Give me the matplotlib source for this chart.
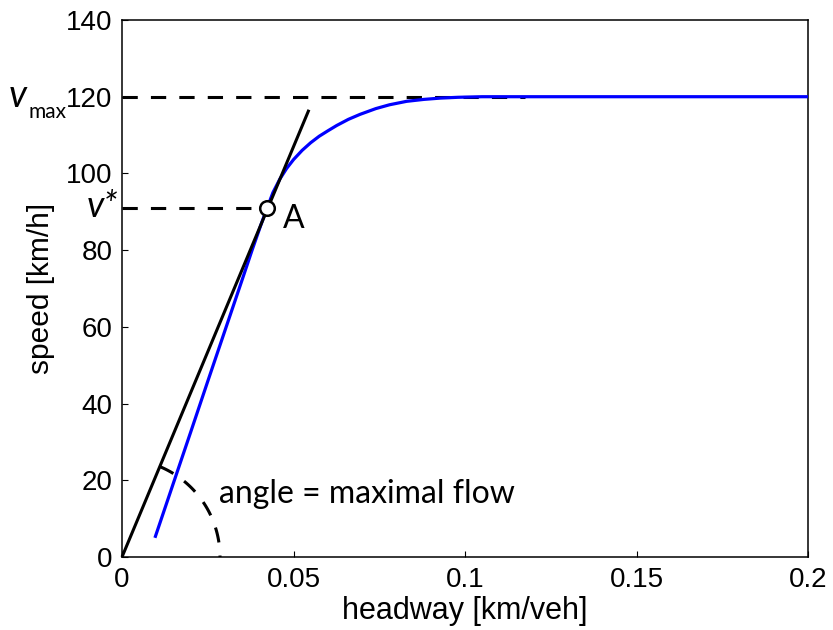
import matplotlib
matplotlib.use("Agg")
import matplotlib.pyplot as plt
import numpy as np

# Data
headway = [0.0096, 0.015, 0.020, 0.025, 0.030, 0.035, 0.038, 0.0405, 0.0423, 0.044,
           0.046, 0.048, 0.050, 0.0525, 0.055, 0.0575, 0.060, 0.0626, 0.066, 0.0694,
           0.074, 0.078, 0.083, 0.088, 0.093, 0.098, 0.105, 0.112, 0.15, 0.2]
speed = [5.0, 19.3, 32.5, 45.8, 59.0, 72.2, 80.2, 86.6, 91.0, 95.0,
         98.5, 101.3, 103.6, 106.0, 108.0, 109.7, 111.1, 112.5, 114.1, 115.4,
         116.9, 117.9, 118.8, 119.3, 119.65, 119.85, 120.0, 120.0, 120.0, 120.0]

tangent_x = [0.0, 0.0545]
tangent_y = [0.0, 116.6]

vmax = 120
vstar = 91
point_A = (0.0423, 91)
vmax_dash_end = 0.1175

xticks = [0, 0.05, 0.1, 0.15, 0.2]
xtick_labels = ["0", "0.05", "0.1", "0.15", "0.2"]
yticks = [0, 20, 40, 60, 80, 100, 120, 140]

W, H = 833, 630
fig = plt.figure(figsize=(W / 100, H / 100), dpi=100)
L, R, T, B = 122, 808, 20, 557
ax = fig.add_axes([L / W, 1 - B / H, (R - L) / W, (B - T) / H])

tick_font = "Liberation Sans"
ann_font = "Lato"

dash = (5, 4.3)
lw = 2.2

ax.plot([0, vmax_dash_end], [vmax, vmax], color="black", lw=lw, dashes=dash, zorder=2)
ax.plot([0, point_A[0]], [vstar, vstar], color="black", lw=lw, dashes=dash, zorder=2)
ax.plot(headway, speed, color="#0000ff", lw=2.3, zorder=3, solid_capstyle="butt",
        solid_joinstyle="round")
ax.plot(tangent_x, tangent_y, color="black", lw=2.2, zorder=4, clip_on=False,
        solid_capstyle="butt")

# angle arc (circular in pixel space), centred on the origin, drawn from the line down
r_px = 98
px_x = (R - L) / 0.2
px_y = (B - T) / 140
theta = np.arctan2(tangent_y[1] * px_y, tangent_x[1] * px_x)
t = np.linspace(theta, 0, 80)
ax.plot(r_px * np.cos(t) / px_x, r_px * np.sin(t) / px_y, color="black", lw=lw,
        dashes=dash, zorder=2, clip_on=False)

ax.plot([point_A[0]], [point_A[1]], marker="o", ms=10.5, mfc="white", mec="black",
        mew=1.8, zorder=5)

ax.set_xlim(0, 0.2)
ax.set_ylim(0, 140)
ax.set_xticks(xticks)
ax.set_xticklabels(xtick_labels)
ax.set_yticks(yticks)
ax.tick_params(direction="in", length=4, width=0.8, labelsize=20, pad=7)
for lab in ax.get_xticklabels() + ax.get_yticklabels():
    lab.set_fontfamily(tick_font)
for s in ax.spines.values():
    s.set_linewidth(1.1)

ax.set_xlabel("headway [km/veh]", fontsize=22, fontfamily=tick_font, labelpad=2)
ax.set_ylabel("speed [km/h]", fontsize=21.5, fontfamily=tick_font, labelpad=8)

# annotations
ax.text(point_A[0] + 0.0045, point_A[1] - 3, "A", fontsize=23, fontfamily=ann_font,
        ha="left", va="center")
ax.text(0.0283, 16.5, "angle = maximal flow", fontsize=23, fontfamily=ann_font,
        ha="left", va="center")

fig.text(9 / W, 1 - 107 / H, "v", fontsize=27, fontfamily=ann_font, style="italic",
         ha="left", va="baseline")
fig.text(28 / W, 1 - 118 / H, "max", fontsize=15, fontfamily=ann_font,
         ha="left", va="baseline")
fig.text(118 / W, 1 - 217 / H, "v*", fontsize=26, fontfamily=ann_font, style="italic",
         ha="right", va="baseline")

fig.savefig("out.png", dpi=100)
